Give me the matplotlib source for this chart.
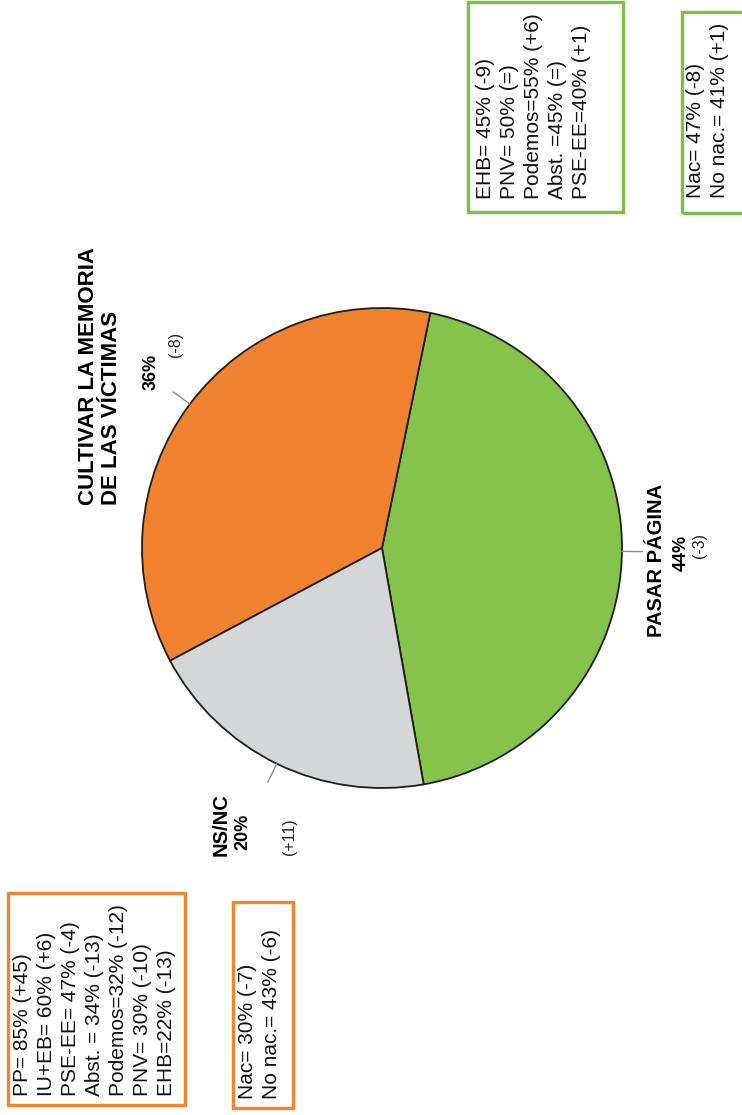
import matplotlib.pyplot as plt
import numpy as np
from matplotlib.patches import Rectangle

plt.rcParams['font.family'] = ['Liberation Sans', 'DejaVu Sans']

# data
categories = ['PASAR PÁGINA', 'CULTIVAR LA MEMORIA\nDE LAS VÍCTIMAS', 'NS/NC']
values = [44, 36, 20]
changes = ['(-3)', '(-8)', '(+11)']
colors = ['#86c34b', '#f08230', '#d4d6d8']

pasar_partidos = ['EHB= 45% (-9)', 'PNV= 50% (=)', 'Podemos=55% (+6)',
                  'Abst. =45% (=)', 'PSE-EE=40% (+1)']
pasar_nac = ['Nac= 47% (-8)', 'No nac.= 41% (+1)']
cultivar_partidos = ['PP= 85% (+45)', 'IU+EB= 60% (+6)', 'PSE-EE= 47% (-4)',
                     'Abst. = 34% (-13)', 'Podemos=32% (-12)', 'PNV= 30% (-10)',
                     'EHB=22% (-13)']
cultivar_nac = ['Nac= 30% (-7)', 'No nac.= 43% (-6)']

W, H = 742, 1115


def Y(y):
    # image pixel row -> axes y
    return H - y


fig = plt.figure(figsize=(W / 100, H / 100), dpi=100)
ax = fig.add_axes([0, 0, 1, 1])
ax.set_xlim(0, W)
ax.set_ylim(0, H)
ax.set_aspect('equal')
ax.axis('off')

cx, cy, r = 382, Y(548), 240
wedges, _ = ax.pie(values, colors=colors, startangle=280, counterclock=True,
                   center=(cx, cy), radius=r,
                   wedgeprops=dict(edgecolor='#1e1e1e', linewidth=1.3))
ax.set_xlim(0, W)
ax.set_ylim(0, H)

# leader lines at mid angles
for w in wedges:
    a = np.deg2rad((w.theta1 + w.theta2) / 2)
    ax.plot([cx + r * np.cos(a), cx + r * 1.085 * np.cos(a)],
            [cy + r * np.sin(a), cy + r * 1.085 * np.sin(a)],
            color='#8a8a8a', lw=1)

# label layout (image pixels): title, pct, change
title_pos = [(657, 560), (100, 505), (221, 825)]
pct_pos = [(681, 553), (151, 372), (243, 832)]
chg_pos = [(700, 545), (176, 344), (290, 837)]

for i, cat in enumerate(categories):
    tx, ty = title_pos[i]
    if '\n' in cat:
        ax.text(tx, Y(ty), cat, rotation=90, ha='center', va='bottom',
                multialignment='left', fontsize=16, fontweight='bold',
                linespacing=1.15)
    else:
        ax.text(tx, Y(ty), cat, rotation=90, ha='center', va='center',
                fontsize=14.5, fontweight='bold')
    px, py = pct_pos[i]
    ax.text(px, Y(py), f'{values[i]}%', rotation=90, ha='center', va='center',
            fontsize=13, fontweight='bold')
    qx, qy = chg_pos[i]
    ax.text(qx, Y(qy), changes[i], rotation=90, ha='center', va='center',
            fontsize=11.5, color='#222222')

# boxes: (x0, y0, x1, y1) in image pixels, text anchor, colour, lines
boxes = [
    ((468, 2, 623, 212), (476, 199), '#7cc145', pasar_partidos),
    ((682, 12, 748, 213), (686, 198), '#7cc145', pasar_nac),
    ((8, 893, 185, 1105), (13, 1096), '#f0842f', cultivar_partidos),
    ((233, 902, 293, 1108), (238, 1099), '#f0842f', cultivar_nac),
]
for (x0, y0, x1, y1), (tx, ty), col, lines in boxes:
    ax.add_patch(Rectangle((x0, Y(y1)), x1 - x0, y1 - y0, fill=False,
                           edgecolor=col, linewidth=2.4))
    ax.text(tx, Y(ty), '\n'.join(lines), rotation=90, ha='left', va='bottom',
            multialignment='left', fontsize=15, linespacing=1.33,
            color='#111111')

fig.savefig('out.png', dpi=100)
